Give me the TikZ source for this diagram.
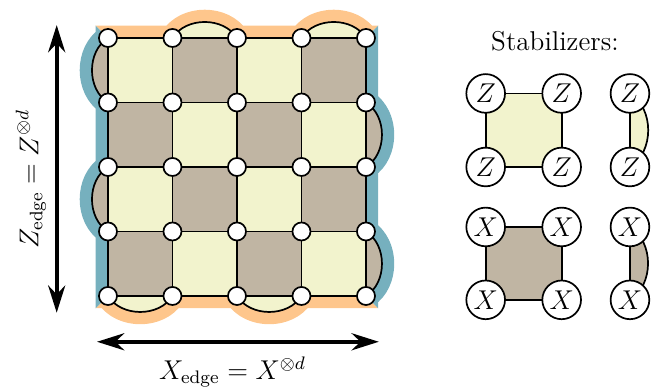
\documentclass[tikz,border=0pt]{standalone}
\usepackage{amsmath,amssymb}
\usetikzlibrary{arrows.meta}

\definecolor{zcol}{HTML}{F2F3CD}
\definecolor{xcol}{HTML}{C0B5A3}
\definecolor{zband}{HTML}{FEC68C}
\definecolor{xband}{HTML}{76B0BE}

\begin{document}
\begin{tikzpicture}[>={Stealth[length=12pt,width=7.5pt]}, line width=0.75pt,
    qubit/.style={circle, draw, fill=white, inner sep=0pt, minimum size=0.28cm},
    stab/.style={circle, draw, fill=white, inner sep=0pt, minimum size=0.6cm, font=\large},
    band/.style={line width=0.38cm, line join=round},
    bumpl/.style={bend left=58},
    bumpr/.style={bend right=58}]
    \useasboundingbox (-1.674,-1.426) rectangle (8.543,4.589);

    % 格点坐标
    \foreach \i in {0,...,4}
      \foreach \j in {0,...,4}
        \coordinate (p\i\j) at (\i,\j);

    % 边界色带 (上下橙色, 左右蓝色)
    \begin{scope}
      \clip (2,2) -- (-4,8) -- (8,8) -- cycle;
      \draw[band, zband] (-1,4) -- (p14) to[bumpl] (p24) -- (p34) to[bumpl] (p44) -- (5,4);
    \end{scope}
    \begin{scope}
      \clip (2,2) -- (8,-4) -- (-4,-4) -- cycle;
      \draw[band, zband] (-1,0) -- (p00) to[bumpr] (p10) -- (p20) to[bumpr] (p30) -- (5,0);
    \end{scope}
    \begin{scope}
      \clip (2,2) -- (-4,-4) -- (-4,8) -- cycle;
      \draw[band, xband] (0,-1) -- (p01) to[bumpl] (p02) -- (p03) to[bumpl] (p04) -- (0,5);
    \end{scope}
    \begin{scope}
      \clip (2,2) -- (8,8) -- (8,-4) -- cycle;
      \draw[band, xband] (4,-1) -- (p40) to[bumpr] (p41) -- (p42) to[bumpr] (p43) -- (4,5);
    \end{scope}

    % 棋盘格填充
    \foreach \i in {0,...,3}
      \foreach \j in {0,...,3} {
        \ifodd\numexpr\i+\j\relax \def\cellcol{zcol}\else \def\cellcol{xcol}\fi
        \fill[\cellcol] (p\i\j) rectangle ++(1,1);
      }

    % 边界上的两体稳定子
    \draw[fill=zcol] (p14) to[bumpl] (p24) -- cycle;
    \draw[fill=zcol] (p34) to[bumpl] (p44) -- cycle;
    \draw[fill=zcol] (p00) to[bumpr] (p10) -- cycle;
    \draw[fill=zcol] (p20) to[bumpr] (p30) -- cycle;
    \draw[fill=xcol] (p01) to[bumpl] (p02) -- cycle;
    \draw[fill=xcol] (p03) to[bumpl] (p04) -- cycle;
    \draw[fill=xcol] (p40) to[bumpr] (p41) -- cycle;
    \draw[fill=xcol] (p42) to[bumpr] (p43) -- cycle;

    % 网格线
    \foreach \k in {0,...,4} {
      \draw (p0\k) -- (p4\k);
      \draw (p\k0) -- (p\k4);
    }

    % 量子比特
    \foreach \i in {0,...,4}
      \foreach \j in {0,...,4}
        \node[qubit] (q\i\j) at (p\i\j) {};

    % 逻辑算符箭头
    \coordinate (zs) at (-0.795,-0.26);
    \coordinate (ze) at (-0.795,4.2);
    \draw[<->, line width=1.8pt] (zs) -- (ze);
    \node[font=\large, rotate=90, anchor=base] (zlab) at (-1.08,1.81) {$Z_{\text{edge}} = Z^{\otimes d}$};

    \coordinate (xs) at (-0.17,-0.71);
    \coordinate (xe) at (4.2,-0.71);
    \draw[<->, line width=1.8pt] (xs) -- (xe);
    \node[font=\large, anchor=base] (xlab) at (1.93,-1.30) {$X_{\text{edge}} = X^{\otimes d}$};

    % 右侧: 稳定子图例
    \node[font=\large, anchor=base] (title) at (6.93,3.81) {Stabilizers:};

    \coordinate (z1) at (5.856,3.14);
    \coordinate (z2) at (7.034,3.14);
    \coordinate (z3) at (5.856,2.0);
    \coordinate (z4) at (7.034,2.0);
    \coordinate (z5) at (8.093,3.14);
    \coordinate (z6) at (8.093,2.0);
    \draw[fill=zcol] (z1) -- (z2) -- (z4) -- (z3) -- cycle;
    \draw[fill=zcol] (z6) to[bumpr] (z5) -- cycle;
    \foreach \n in {1,...,6}
      \node[stab] (Z\n) at (z\n) {$Z$};

    \coordinate (x1) at (5.856,1.07);
    \coordinate (x2) at (7.034,1.07);
    \coordinate (x3) at (5.856,-0.06);
    \coordinate (x4) at (7.034,-0.06);
    \coordinate (x5) at (8.093,1.07);
    \coordinate (x6) at (8.093,-0.06);
    \draw[fill=xcol] (x1) -- (x2) -- (x4) -- (x3) -- cycle;
    \draw[fill=xcol] (x6) to[bumpr] (x5) -- cycle;
    \foreach \n in {1,...,6}
      \node[stab] (X\n) at (x\n) {$X$};
\end{tikzpicture}
\end{document}
